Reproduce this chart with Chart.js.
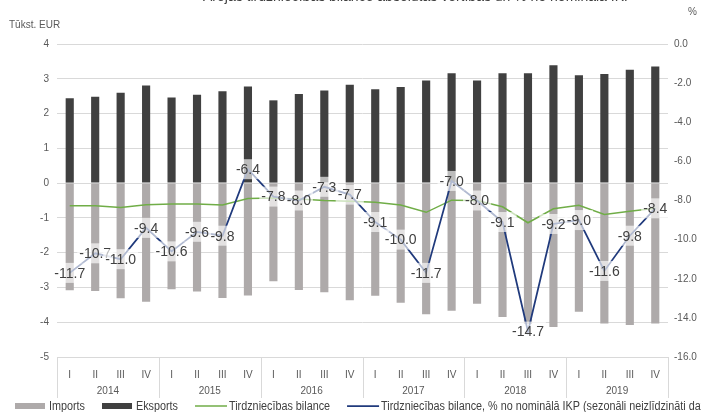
<!DOCTYPE html>
<html>
<head>
<meta charset="utf-8">
<script src="https://cdn.jsdelivr.net/npm/chart.js@4.4.1/dist/chart.umd.min.js"></script>
<style>
html, body { margin: 0; padding: 0; background: #fff; overflow: hidden; }
#wrap { position: relative; width: 701px; height: 412px; }
#title { position: absolute; top: -12px; left: 203px; font: 14px 'Liberation Sans', Arial, sans-serif; color: #404040; white-space: nowrap; }
canvas { position: absolute; left: 0; top: 0; }
</style>
</head>
<body>
<div id="wrap">
<canvas id="chart" width="701" height="412"></canvas>
<div id="title">Ārējās tirdzniecības bilance absolūtās vērtībās un % no nominālā IKP</div>
</div>
<script>
const years = ['2014', '2015', '2016', '2017', '2018', '2019'];
const quarters = ['I', 'II', 'III', 'IV'];

// tūkst. EUR (left axis)
const exportsData = [2.44, 2.48, 2.60, 2.81, 2.46, 2.54, 2.64, 2.78, 2.38, 2.56, 2.66, 2.83,
                     2.70, 2.76, 2.95, 3.16, 2.95, 3.16, 3.16, 3.39, 3.10, 3.14, 3.26, 3.35];
const importsData = [-3.08, -3.10, -3.31, -3.41, -3.05, -3.12, -3.30, -3.23, -2.82, -3.07, -3.14, -3.37,
                     -3.24, -3.44, -3.77, -3.67, -3.47, -3.85, -4.05, -4.14, -3.70, -4.04, -4.08, -4.04];
const balanceData = [-0.65, -0.65, -0.70, -0.62, -0.60, -0.60, -0.63, -0.44, -0.43, -0.46, -0.50, -0.52,
                     -0.55, -0.63, -0.84, -0.49, -0.50, -0.68, -1.14, -0.74, -0.64, -0.90, -0.81, -0.72];
// % no nominālā IKP (right axis)
const balancePct = [-11.7, -10.7, -11.0, -9.4, -10.6, -9.6, -9.8, -6.4, -7.8, -8.0, -7.3, -7.7,
                    -9.1, -10.0, -11.7, -7.0, -8.0, -9.1, -14.7, -9.2, -9.0, -11.6, -9.8, -8.4];

const labels = [];
years.forEach(y => quarters.forEach(q => labels.push(q)));

const sans = "'Liberation Sans', Arial, sans-serif";
Chart.defaults.font.family = sans;
Chart.defaults.color = '#595959';

// year row + separators under the quarter labels, axis titles
const yearAxis = {
    id: 'yearAxis',
    afterDraw(chart) {
        const x = chart.scales.x;
        const ctx = chart.ctx;
        const half = (x.getPixelForValue(1) - x.getPixelForValue(0)) / 2;
        const top = chart.chartArea.bottom;
        ctx.save();
        ctx.strokeStyle = '#D9D9D9';
        ctx.lineWidth = 1;
        for (let k = 0; k <= years.length; k++) {
            const px = Math.round(x.getPixelForValue(k * 4) - half) + 0.5;
            ctx.beginPath();
            ctx.moveTo(px, top);
            ctx.lineTo(px, top + 41);
            ctx.stroke();
        }
        ctx.fillStyle = '#595959';
        ctx.font = '10px ' + sans;
        ctx.textAlign = 'center';
        ctx.textBaseline = 'middle';
        years.forEach((y, k) => {
            const cx = (x.getPixelForValue(k * 4) + x.getPixelForValue(k * 4 + 3)) / 2;
            ctx.fillText(y, cx, top + 34);
        });
        ctx.textAlign = 'left';
        ctx.fillText('Tūkst. EUR', 9, 25);
        ctx.fillText('%', 688, 12);
        ctx.restore();
    }
};

// boxed data labels on the % line
const pctLabels = {
    id: 'pctLabels',
    afterDatasetsDraw(chart) {
        const meta = chart.getDatasetMeta(3);
        const ctx = chart.ctx;
        ctx.save();
        ctx.font = '14px ' + sans;
        ctx.textAlign = 'center';
        ctx.textBaseline = 'middle';
        meta.data.forEach((pt, i) => {
            const txt = balancePct[i].toFixed(1);
            const w = ctx.measureText(txt).width + 4;
            ctx.fillStyle = 'rgba(255,255,255,0.65)';
            ctx.fillRect(pt.x - w / 2, pt.y - 10, w, 20);
            ctx.fillStyle = '#404040';
            ctx.fillText(txt, pt.x, pt.y + 1);
        });
        ctx.restore();
    }
};

// single-row legend with narrow text
const narrowLegend = {
    id: 'narrowLegend',
    afterDraw(chart) {
        const ctx = chart.ctx;
        const squeeze = 0.9;
        const cy = 406;
        let xPos = 15;
        ctx.save();
        ctx.font = '12px ' + sans;
        ctx.textBaseline = 'middle';
        chart.data.datasets.forEach(ds => {
            if (ds.type === 'line') {
                ctx.strokeStyle = ds.borderColor;
                ctx.lineWidth = ds.borderWidth;
                ctx.beginPath();
                ctx.moveTo(xPos, cy);
                ctx.lineTo(xPos + 32, cy);
                ctx.stroke();
            } else {
                ctx.fillStyle = ds.backgroundColor;
                ctx.fillRect(xPos, cy - 3, 30, 6);
            }
            xPos += 34;
            ctx.save();
            ctx.translate(xPos, cy);
            ctx.scale(squeeze, 1);
            ctx.fillStyle = '#404040';
            ctx.fillText(ds.label, 0, 1);
            ctx.restore();
            xPos += ctx.measureText(ds.label).width * squeeze + 17;
        });
        ctx.restore();
    }
};

const ctx = document.getElementById('chart').getContext('2d');
const chart = new Chart(ctx, {
    type: 'bar',
    data: {
        labels: labels,
        datasets: [{
            label: 'Imports',
            data: importsData,
            backgroundColor: '#AEAAAA',
            borderWidth: 0,
            grouped: false,
            barPercentage: 0.32,
            categoryPercentage: 1,
            yAxisID: 'y',
            order: 4
        }, {
            label: 'Eksports',
            data: exportsData,
            backgroundColor: '#404040',
            borderWidth: 0,
            grouped: false,
            barPercentage: 0.32,
            categoryPercentage: 1,
            yAxisID: 'y',
            order: 3
        }, {
            type: 'line',
            label: 'Tirdzniecības bilance',
            data: balanceData,
            borderColor: '#70AD47',
            backgroundColor: '#70AD47',
            borderWidth: 1.5,
            pointRadius: 0,
            yAxisID: 'y',
            order: 2
        }, {
            type: 'line',
            label: 'Tirdzniecības bilance, % no nominālā IKP (sezonāli neizlīdzināti dati)',
            data: balancePct,
            borderColor: '#203A7C',
            backgroundColor: '#203A7C',
            borderWidth: 1.75,
            pointRadius: 0,
            yAxisID: 'y2',
            order: 1
        }]
    },
    options: {
        responsive: false,
        animation: false,
        layout: {
            padding: { top: 44, left: 0, right: 0, bottom: 11 }
        },
        plugins: {
            tooltip: { enabled: false },
            legend: { display: false }
        },
        scales: {
            x: {
                grid: { display: false, drawTicks: false },
                border: { color: '#D9D9D9' },
                ticks: { padding: 12, font: { size: 10 }, color: '#595959', autoSkip: false, maxRotation: 0 },
                afterFit: s => { s.height = 44; }
            },
            y: {
                position: 'left',
                min: -5,
                max: 4,
                ticks: { stepSize: 1, padding: 8, font: { size: 10 }, color: '#595959' },
                grid: { color: '#D9D9D9', drawTicks: false },
                border: { display: false },
                afterFit: s => { s.width = 57; }
            },
            y2: {
                position: 'right',
                min: -16,
                max: 0,
                ticks: { stepSize: 2, padding: 6, font: { size: 10 }, color: '#595959', callback: v => v.toFixed(1) },
                grid: { drawOnChartArea: false, drawTicks: false },
                border: { display: false },
                afterFit: s => { s.width = 33; }
            }
        }
    },
    plugins: [yearAxis, pctLabels, narrowLegend]
});
</script>
</body>
</html>
